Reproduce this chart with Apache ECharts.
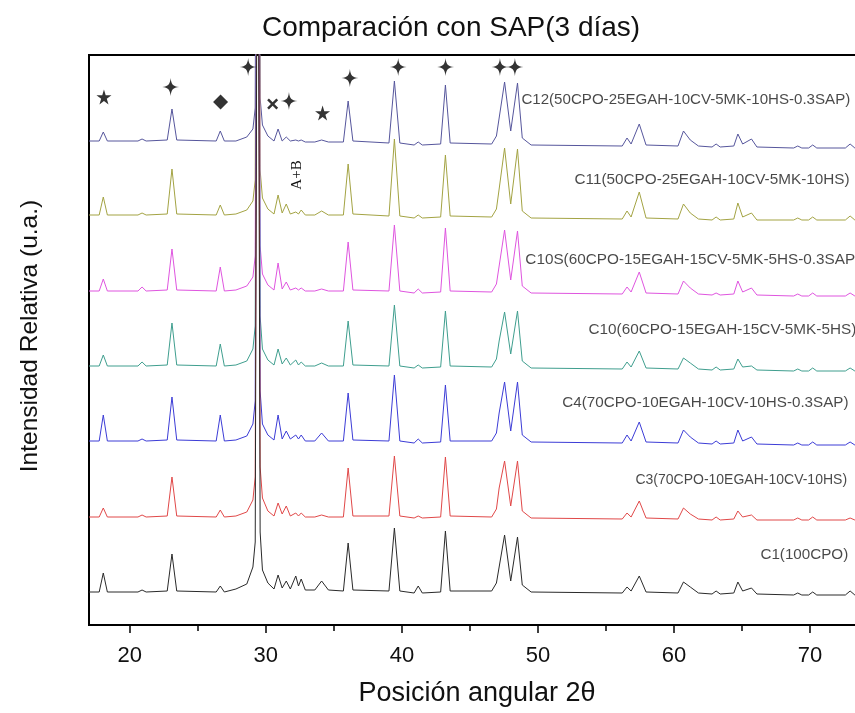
<!DOCTYPE html>
<html>
<head>
<meta charset="utf-8">
<script src="https://cdn.jsdelivr.net/npm/echarts@6/dist/echarts.min.js"></script>
<style>
  html, body { margin: 0; padding: 0; background: #fff; }
  #chart { width: 855px; height: 713px; }
</style>
</head>
<body>
<div id="chart"></div>
<script>
// Diffraction angle (2θ, degrees) at which every pattern is sampled
const twoTheta = [
  17.0, 17.75, 18.05, 18.35, 20.6, 20.9, 21.2, 22.75, 23.1, 23.45,
  26.35, 26.65, 26.95, 27.8, 28.6, 29.05, 29.22, 29.4, 29.58, 29.75,
  30.15, 30.6, 30.9, 31.2, 31.5, 31.8, 32.2, 32.4, 32.6, 32.9,
  33.6, 34.1, 34.6, 35.7, 36.05, 36.4, 39.05, 39.45, 39.85, 40.9,
  41.2, 41.5, 42.85, 43.2, 43.55, 46.6, 46.95, 47.15, 47.55, 48.0,
  48.5, 48.85, 49.5, 56.2, 56.55, 56.85, 57.45, 57.95, 60.3, 60.7,
  61.2, 61.8, 62.8, 63.1, 63.4, 64.4, 64.7, 65.05, 65.7, 66.1,
  68.8, 69.1, 69.4, 69.9, 70.2, 70.5, 72.6, 72.95, 73.3, 75.0
];

// Sample names, top to bottom
const sampleNames = [
  'C12(50CPO-25EGAH-10CV-5MK-10HS-0.3SAP)',
  'C11(50CPO-25EGAH-10CV-5MK-10HS)',
  'C10S(60CPO-15EGAH-15CV-5MK-5HS-0.3SAP)',
  'C10(60CPO-15EGAH-15CV-5MK-5HS)',
  'C4(70CPO-10EGAH-10CV-10HS-0.3SAP)',
  'C3(70CPO-10EGAH-10CV-10HS)',
  'C1(100CPO)'
];

// Vertical stacking shift of each pattern (u.a.)
const verticalShift = [484, 410, 334, 259, 184, 108, 33];

// Relative intensity of each pattern at the twoTheta positions (u.a.)
const intensityC12 = [
  0, 0, 9, 0, 0, 2, 0, 1, 32, 1,
  0, 10, 0, 0, 4, 12, 33, 900, 43, 16,
  5, 0, 12, 0, 4, 0, 1, 0, 1, -1,
  -1, 1, -1, -1, 40, 0, -2, 60, -2, -4,
  -1, -4, -3, 56, -2, -3, 5, 23, 59, 10,
  58, 3, -4, -5, 3, -3, 17, -4, -5, 10,
  1, -5, -6, -3, -6, -5, 7, -3, 2, -6,
  -7, -5, -7, -7, -4, -7, -7, -3, -7, -7
];
const intensityC11 = [
  0, 0, 18, 0, 0, 2, 0, 1, 46, 1,
  0, 10, 0, 1, 5, 14, 35, 900, 45, 17,
  6, 1, 20, 2, 11, 1, 3, 1, 5, 0,
  0, 4, 0, 0, 51, 1, -1, 76, -1, -3,
  0, -3, -2, 60, -1, -2, 6, 26, 67, 11,
  66, 4, -3, -4, 4, -2, 23, -3, -4, 11,
  2, -4, -5, -2, -5, -4, 12, -2, 2, -5,
  -5, -3, -5, -5, -2, -5, -5, -1, -5, -5
];
const intensityC10S = [
  0, 0, 12, 0, 0, 4, 0, 1, 42, 1,
  0, 24, 0, 1, 5, 14, 35, 900, 45, 17,
  6, 1, 28, 2, 9, 1, 3, 1, 3, 0,
  0, 2, 0, 0, 49, 1, 0, 66, 0, -2,
  2, -2, -1, 63, 0, -1, 7, 25, 61, 11,
  60, 5, -2, -3, 4, -1, 19, -2, -3, 10,
  3, -3, -4, -2, -4, -3, 10, -1, 3, -4,
  -5, -3, -5, -5, -2, -5, -5, -2, -5, -5
];
const intensityC10 = [
  0, 0, 11, 0, 0, 4, 0, 1, 43, 1,
  0, 22, 0, 1, 5, 17, 40, 900, 50, 17,
  6, 1, 17, 2, 8, 1, 6, 1, 4, 0,
  0, 3, 0, 0, 45, 1, 0, 61, 0, -2,
  1, -2, -1, 55, 0, -1, 7, 25, 54, 12,
  55, 5, -2, -3, 4, -1, 15, -2, -3, 8,
  3, -3, -4, -1, -4, -3, 7, -1, 0, -4,
  -5, -3, -5, -5, -2, -5, -5, -2, -5, -5
];
const intensityC4 = [
  0, 0, 26, 0, 0, 2, 0, 1, 44, 1,
  0, 26, 0, 1, 5, 17, 40, 900, 50, 17,
  6, 1, 26, 2, 10, 2, 6, 2, 6, 0,
  0, 8, 0, 0, 48, 1, 0, 66, 0, -2,
  2, -2, -1, 56, 0, 0, 8, 28, 59, 10,
  59, 6, -1, -2, 6, 0, 19, -1, -2, 11,
  4, -2, -3, 0, -3, -2, 11, 0, 4, -3,
  -4, -2, -4, -4, -1, -4, -4, -1, -4, -4
];
const intensityC3 = [
  0, 0, 9, 0, 0, 2, 0, 1, 40, 1,
  0, 7, 0, 1, 5, 17, 40, 900, 50, 19,
  6, 1, 14, 3, 11, 1, 4, 1, 4, 0,
  0, 2, 0, 0, 49, 1, 1, 61, 1, -1,
  1, -1, 0, 60, 1, 0, 8, 29, 56, 11,
  56, 6, -1, -2, 4, 0, 16, -1, -2, 9,
  3, -2, -3, 0, -3, -2, 6, 0, 2, -3,
  -3, -1, -3, -3, 0, -3, -3, -1, -3, -3
];
const intensityC1 = [
  0, 0, 19, 0, 0, 2, 0, 1, 38, 1,
  0, 6, 0, 3, 8, 25, 50, 900, 60, 22,
  9, 3, 17, 4, 11, 3, 16, 6, 13, 2,
  2, 11, 2, 1, 49, 2, 1, 64, 1, -1,
  6, -1, 0, 61, 1, 1, 9, 25, 57, 11,
  55, 7, 0, -1, 5, 1, 16, 0, -1, 10,
  5, -1, -2, 1, -2, -1, 10, 1, 4, -2,
  -3, -1, -3, -3, 0, -3, -3, 1, -3, -3
];
const intensities = [intensityC12, intensityC11, intensityC10S, intensityC10, intensityC4, intensityC3, intensityC1];

// Where each sample name sits: [2θ at the start of the text, intensity level]
const sampleLabelAt = [
  [48.75, 525], [52.65, 445], [49.04, 365], [53.68, 295],
  [51.76, 222], [57.13, 145], [66.32, 70]
];

// Phase markers above the reflections: [2θ, intensity level, phase symbol]
const phaseMarks = [
  [18.1, 528, 'star'], [23.0, 538, 'sparkle'], [26.67, 523, 'diamond'],
  [28.7, 558, 'sparkle'], [30.5, 521, 'cross'], [31.7, 524, 'sparkle'],
  [34.17, 512, 'star'], [36.18, 547, 'sparkle'], [39.73, 558, 'sparkle'],
  [43.21, 558, 'sparkle'], [47.21, 558, 'sparkle'], [48.31, 558, 'sparkle']
];

// Axis ticks
const majorTicks = [20, 30, 40, 50, 60, 70];
const minorTicks = [25, 35, 45, 55, 65, 75];

// ---- styling ----
const lineColors = ['#56569c', '#a3a343', '#df55df', '#3f9e8e', '#3c3cd6', '#e04848', '#2a2a2a'];
const labelFontSizes = [15.1, 15.3, 15.3, 15.3, 15.2, 14, 15.2];
const FONT = '"Liberation Sans", Arial, Helvetica, sans-serif';
const markerShapes = {
  sparkle: 'path://M50,0 C54,36 64,46 100,50 C64,54 54,64 50,100 C46,64 36,54 0,50 C36,46 46,36 50,0 Z',
  star: 'path://M50,0 L61,35 L98,35 L68,57 L79,92 L50,70 L21,92 L32,57 L2,35 L39,35 Z',
  diamond: 'diamond',
  cross: 'path://M0,16 L16,0 L50,34 L84,0 L100,16 L66,50 L100,84 L84,100 L50,66 L16,100 L0,84 L34,50 Z'
};
const markerSizes = { sparkle: [17, 18], star: [15, 15], diamond: [15, 15], cross: [11, 11] };

const chart = echarts.init(document.getElementById('chart'), null, { renderer: 'canvas' });

const patternSeries = sampleNames.map((name, k) => ({
  name: name,
  type: 'line',
  data: twoTheta.map((t, i) => [t, verticalShift[k] + intensities[k][i]]),
  showSymbol: false,
  symbol: 'none',
  clip: true,
  lineStyle: { color: lineColors[k], width: 1 },
  itemStyle: { color: lineColors[k] },
  emphasis: { disabled: true },
  z: 2 + k
}));

const option = {
  animation: false,
  backgroundColor: '#fff',
  title: {
    text: 'Comparación con SAP(3 días)',
    left: 257,
    top: 9,
    textStyle: { fontFamily: FONT, fontSize: 28, fontWeight: 'normal', color: '#111' }
  },
  grid: {
    left: 89, top: 55, width: 789, height: 570,
    outerBoundsMode: 'none',
    show: true, borderColor: '#000', borderWidth: 2, backgroundColor: 'transparent'
  },
  xAxis: [{
    type: 'value', min: 17, max: 75,
    axisLine: { show: true, lineStyle: { color: '#000', width: 2 } },
    axisTick: { show: true, length: 8, customValues: majorTicks, lineStyle: { color: '#000', width: 1.5 } },
    axisLabel: { customValues: majorTicks, fontFamily: FONT, fontSize: 22, color: '#111', margin: 20 },
    splitLine: { show: false },
    name: 'Posición angular 2θ',
    nameLocation: 'middle',
    nameGap: 55,
    nameTextStyle: { fontFamily: FONT, fontSize: 27, color: '#111', padding: [0, 13, 0, 0] }
  }, {
    type: 'value', min: 17, max: 75, position: 'bottom', offset: 0,
    axisLine: { show: false },
    axisTick: { show: true, length: 6, customValues: minorTicks, lineStyle: { color: '#000', width: 1.5 } },
    axisLabel: { show: false },
    splitLine: { show: false }
  }],
  yAxis: {
    type: 'value', min: 0, max: 570,
    axisLine: { show: false }, axisTick: { show: false }, axisLabel: { show: false },
    splitLine: { show: false },
    name: 'Intensidad Relativa (u.a.)',
    nameLocation: 'middle',
    nameRotate: 90,
    nameGap: 46,
    nameTextStyle: { fontFamily: FONT, fontSize: 24.5, color: '#111', padding: [0, 0, 0, 8] }
  },
  series: patternSeries.concat([{
    name: 'fases',
    type: 'scatter',
    data: phaseMarks.map(m => ({
      value: [m[0], m[1]],
      symbol: markerShapes[m[2]],
      symbolSize: markerSizes[m[2]]
    })),
    itemStyle: { color: '#000' },
    emphasis: { disabled: true },
    z: 20
  }, {
    name: 'muestras',
    type: 'scatter',
    data: sampleLabelAt.map((p, k) => ({
      name: sampleNames[k],
      value: p,
      label: { fontSize: labelFontSizes[k] }
    })),
    symbol: 'circle',
    symbolSize: 1,
    itemStyle: { color: 'transparent' },
    label: {
      show: true, position: 'right', distance: 0,
      formatter: p => p.name,
      fontFamily: FONT, color: '#1a1a1a'
    },
    emphasis: { disabled: true },
    z: 21
  }]),
  graphic: [{
    type: 'text',
    x: 297, y: 175,
    rotation: Math.PI / 2,
    style: {
      text: 'A+B',
      font: '15px "Liberation Serif", "Times New Roman", serif',
      fill: '#111',
      align: 'center',
      verticalAlign: 'middle'
    },
    z: 30
  }]
};

chart.setOption(option);
</script>
</body>
</html>
